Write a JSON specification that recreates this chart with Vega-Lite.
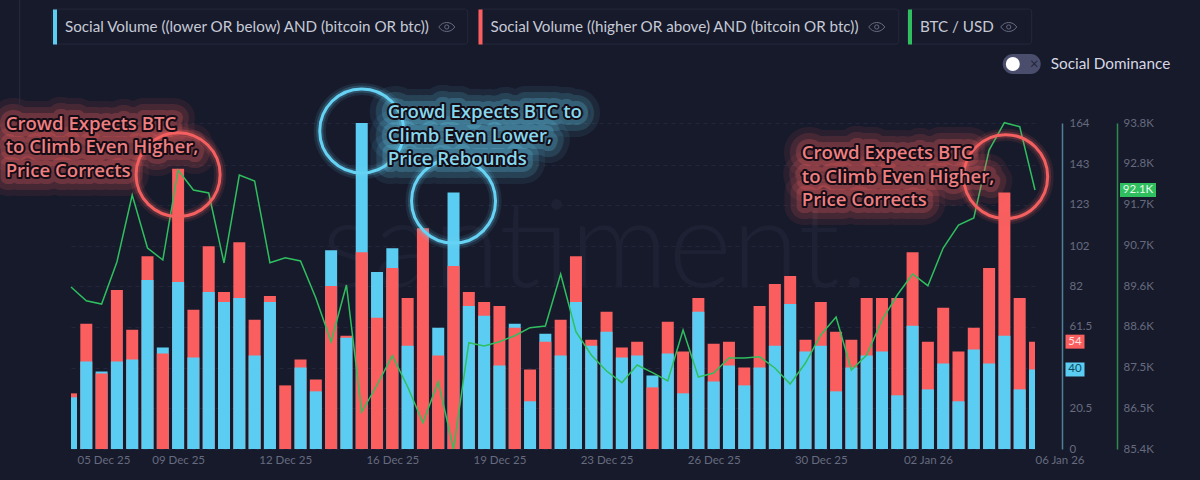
{
  "$schema": "https://vega.github.io/schema/vega-lite/v6.json",
  "width": 964,
  "height": 326,
  "autosize": {"type": "none"},
  "padding": {"left": 71, "top": 123, "right": 165, "bottom": 31},
  "background": "#171a2b",
  "config": {"view": {"stroke": null}, "font": "Lato"},
  "datasets": {
    "points": [
      {"date":"2025-12-05T00:00Z","series":"lower","value":26},{"date":"2025-12-05T00:00Z","series":"higher","value":28},{"date":"2025-12-05T00:00Z","series":"btc","value":89574},
      {"date":"2025-12-05T12:00Z","series":"lower","value":44},{"date":"2025-12-05T12:00Z","series":"higher","value":63},{"date":"2025-12-05T12:00Z","series":"btc","value":89221},
      {"date":"2025-12-06T00:00Z","series":"lower","value":39},{"date":"2025-12-06T00:00Z","series":"higher","value":38},{"date":"2025-12-06T00:00Z","series":"btc","value":89136},
      {"date":"2025-12-06T12:00Z","series":"lower","value":44},{"date":"2025-12-06T12:00Z","series":"higher","value":80},{"date":"2025-12-06T12:00Z","series":"btc","value":90218},
      {"date":"2025-12-07T00:00Z","series":"lower","value":45},{"date":"2025-12-07T00:00Z","series":"higher","value":60},{"date":"2025-12-07T00:00Z","series":"btc","value":91945},
      {"date":"2025-12-07T12:00Z","series":"lower","value":85},{"date":"2025-12-07T12:00Z","series":"higher","value":97},{"date":"2025-12-07T12:00Z","series":"btc","value":90579},
      {"date":"2025-12-08T00:00Z","series":"lower","value":51},{"date":"2025-12-08T00:00Z","series":"higher","value":48},{"date":"2025-12-08T00:00Z","series":"btc","value":90270},
      {"date":"2025-12-08T12:00Z","series":"lower","value":84},{"date":"2025-12-08T12:00Z","series":"higher","value":141},{"date":"2025-12-08T12:00Z","series":"btc","value":92589},
      {"date":"2025-12-09T00:00Z","series":"lower","value":46},{"date":"2025-12-09T00:00Z","series":"higher","value":70},{"date":"2025-12-09T00:00Z","series":"btc","value":92074},
      {"date":"2025-12-09T12:00Z","series":"lower","value":79},{"date":"2025-12-09T12:00Z","series":"higher","value":102},{"date":"2025-12-09T12:00Z","series":"btc","value":91996},
      {"date":"2025-12-10T00:00Z","series":"lower","value":74},{"date":"2025-12-10T00:00Z","series":"higher","value":79},{"date":"2025-12-10T00:00Z","series":"btc","value":90193},
      {"date":"2025-12-10T12:00Z","series":"lower","value":76},{"date":"2025-12-10T12:00Z","series":"higher","value":104},{"date":"2025-12-10T12:00Z","series":"btc","value":92460},
      {"date":"2025-12-11T00:00Z","series":"lower","value":47},{"date":"2025-12-11T00:00Z","series":"higher","value":65},{"date":"2025-12-11T00:00Z","series":"btc","value":92306},
      {"date":"2025-12-11T12:00Z","series":"lower","value":74},{"date":"2025-12-11T12:00Z","series":"higher","value":77},{"date":"2025-12-11T12:00Z","series":"btc","value":90200},
      {"date":"2025-12-12T00:00Z","series":"higher","value":32},{"date":"2025-12-12T00:00Z","series":"btc","value":90329},
      {"date":"2025-12-12T12:00Z","series":"lower","value":41},{"date":"2025-12-12T12:00Z","series":"higher","value":45},{"date":"2025-12-12T12:00Z","series":"btc","value":90244},
      {"date":"2025-12-13T00:00Z","series":"lower","value":29},{"date":"2025-12-13T00:00Z","series":"higher","value":35},{"date":"2025-12-13T00:00Z","series":"btc","value":89291},
      {"date":"2025-12-13T12:00Z","series":"lower","value":100},{"date":"2025-12-13T12:00Z","series":"higher","value":82},{"date":"2025-12-13T12:00Z","series":"btc","value":88165},
      {"date":"2025-12-14T00:00Z","series":"lower","value":56},{"date":"2025-12-14T00:00Z","series":"higher","value":57},{"date":"2025-12-14T00:00Z","series":"btc","value":89626},
      {"date":"2025-12-14T12:00Z","series":"lower","value":164},{"date":"2025-12-14T12:00Z","series":"higher","value":99},{"date":"2025-12-14T12:00Z","series":"btc","value":86353},
      {"date":"2025-12-15T00:00Z","series":"lower","value":89},{"date":"2025-12-15T00:00Z","series":"higher","value":66},{"date":"2025-12-15T00:00Z","series":"btc","value":87049},
      {"date":"2025-12-15T12:00Z","series":"lower","value":101},{"date":"2025-12-15T12:00Z","series":"higher","value":91},{"date":"2025-12-15T12:00Z","series":"btc","value":87804},
      {"date":"2025-12-16T00:00Z","series":"lower","value":52},{"date":"2025-12-16T00:00Z","series":"higher","value":76},{"date":"2025-12-16T00:00Z","series":"btc","value":87005},
      {"date":"2025-12-16T12:00Z","series":"higher","value":111},{"date":"2025-12-16T12:00Z","series":"btc","value":86078},
      {"date":"2025-12-17T00:00Z","series":"lower","value":61},{"date":"2025-12-17T00:00Z","series":"higher","value":47},{"date":"2025-12-17T00:00Z","series":"btc","value":87134},
      {"date":"2025-12-17T12:00Z","series":"lower","value":129},{"date":"2025-12-17T12:00Z","series":"higher","value":92},{"date":"2025-12-17T12:00Z","series":"btc","value":85400},
      {"date":"2025-12-18T00:00Z","series":"lower","value":72},{"date":"2025-12-18T00:00Z","series":"higher","value":79},{"date":"2025-12-18T00:00Z","series":"btc","value":88139},
      {"date":"2025-12-18T12:00Z","series":"lower","value":67},{"date":"2025-12-18T12:00Z","series":"higher","value":74},{"date":"2025-12-18T12:00Z","series":"btc","value":88054},
      {"date":"2025-12-19T00:00Z","series":"lower","value":42},{"date":"2025-12-19T00:00Z","series":"higher","value":72},{"date":"2025-12-19T00:00Z","series":"btc","value":88165},
      {"date":"2025-12-19T12:00Z","series":"lower","value":63},{"date":"2025-12-19T12:00Z","series":"higher","value":61},{"date":"2025-12-19T12:00Z","series":"btc","value":88319},
      {"date":"2025-12-20T00:00Z","series":"lower","value":24},{"date":"2025-12-20T00:00Z","series":"higher","value":40},{"date":"2025-12-20T00:00Z","series":"btc","value":88526},
      {"date":"2025-12-20T12:00Z","series":"lower","value":58},{"date":"2025-12-20T12:00Z","series":"higher","value":54},{"date":"2025-12-20T12:00Z","series":"btc","value":88569},
      {"date":"2025-12-21T00:00Z","series":"lower","value":47},{"date":"2025-12-21T00:00Z","series":"higher","value":65},{"date":"2025-12-21T00:00Z","series":"btc","value":89909},
      {"date":"2025-12-21T12:00Z","series":"lower","value":74},{"date":"2025-12-21T12:00Z","series":"higher","value":97},{"date":"2025-12-21T12:00Z","series":"btc","value":88422},
      {"date":"2025-12-22T00:00Z","series":"lower","value":52},{"date":"2025-12-22T00:00Z","series":"higher","value":55},{"date":"2025-12-22T00:00Z","series":"btc","value":87822},
      {"date":"2025-12-22T12:00Z","series":"lower","value":59},{"date":"2025-12-22T12:00Z","series":"higher","value":69},{"date":"2025-12-22T12:00Z","series":"btc","value":87410},
      {"date":"2025-12-23T00:00Z","series":"lower","value":46},{"date":"2025-12-23T00:00Z","series":"higher","value":51},{"date":"2025-12-23T00:00Z","series":"btc","value":87108},
      {"date":"2025-12-23T12:00Z","series":"lower","value":47},{"date":"2025-12-23T12:00Z","series":"higher","value":54},{"date":"2025-12-23T12:00Z","series":"btc","value":87564},
      {"date":"2025-12-24T00:00Z","series":"lower","value":37},{"date":"2025-12-24T00:00Z","series":"higher","value":31},{"date":"2025-12-24T00:00Z","series":"btc","value":87366},
      {"date":"2025-12-24T12:00Z","series":"lower","value":48},{"date":"2025-12-24T12:00Z","series":"higher","value":64},{"date":"2025-12-24T12:00Z","series":"btc","value":87152},
      {"date":"2025-12-25T00:00Z","series":"lower","value":28},{"date":"2025-12-25T00:00Z","series":"higher","value":49},{"date":"2025-12-25T00:00Z","series":"btc","value":88466},
      {"date":"2025-12-25T12:00Z","series":"lower","value":69},{"date":"2025-12-25T12:00Z","series":"higher","value":76},{"date":"2025-12-25T12:00Z","series":"btc","value":87255},
      {"date":"2025-12-26T00:00Z","series":"lower","value":34},{"date":"2025-12-26T00:00Z","series":"higher","value":53},{"date":"2025-12-26T00:00Z","series":"btc","value":87358},
      {"date":"2025-12-26T12:00Z","series":"lower","value":42},{"date":"2025-12-26T12:00Z","series":"higher","value":54},{"date":"2025-12-26T12:00Z","series":"btc","value":87745},
      {"date":"2025-12-27T00:00Z","series":"lower","value":32},{"date":"2025-12-27T00:00Z","series":"higher","value":41},{"date":"2025-12-27T00:00Z","series":"btc","value":87745},
      {"date":"2025-12-27T12:00Z","series":"lower","value":41},{"date":"2025-12-27T12:00Z","series":"higher","value":72},{"date":"2025-12-27T12:00Z","series":"btc","value":87778},
      {"date":"2025-12-28T00:00Z","series":"lower","value":52},{"date":"2025-12-28T00:00Z","series":"higher","value":83},{"date":"2025-12-28T00:00Z","series":"btc","value":87487},
      {"date":"2025-12-28T12:00Z","series":"lower","value":73},{"date":"2025-12-28T12:00Z","series":"higher","value":87},{"date":"2025-12-28T12:00Z","series":"btc","value":87075},
      {"date":"2025-12-29T00:00Z","series":"lower","value":49},{"date":"2025-12-29T00:00Z","series":"higher","value":55},{"date":"2025-12-29T00:00Z","series":"btc","value":87616},
      {"date":"2025-12-29T12:00Z","series":"lower","value":52},{"date":"2025-12-29T12:00Z","series":"higher","value":74},{"date":"2025-12-29T12:00Z","series":"btc","value":88337},
      {"date":"2025-12-30T00:00Z","series":"lower","value":29},{"date":"2025-12-30T00:00Z","series":"higher","value":59},{"date":"2025-12-30T00:00Z","series":"btc","value":88801},
      {"date":"2025-12-30T12:00Z","series":"lower","value":41},{"date":"2025-12-30T12:00Z","series":"higher","value":55},{"date":"2025-12-30T12:00Z","series":"btc","value":87436},
      {"date":"2025-12-31T00:00Z","series":"lower","value":47},{"date":"2025-12-31T00:00Z","series":"higher","value":76},{"date":"2025-12-31T00:00Z","series":"btc","value":87822},
      {"date":"2025-12-31T12:00Z","series":"lower","value":49},{"date":"2025-12-31T12:00Z","series":"higher","value":76},{"date":"2025-12-31T12:00Z","series":"btc","value":88724},
      {"date":"2026-01-01T00:00Z","series":"lower","value":27},{"date":"2026-01-01T00:00Z","series":"higher","value":76},{"date":"2026-01-01T00:00Z","series":"btc","value":89368},
      {"date":"2026-01-01T12:00Z","series":"lower","value":62},{"date":"2026-01-01T12:00Z","series":"higher","value":99},{"date":"2026-01-01T12:00Z","series":"btc","value":89909},
      {"date":"2026-01-02T00:00Z","series":"lower","value":30},{"date":"2026-01-02T00:00Z","series":"higher","value":54},{"date":"2026-01-02T00:00Z","series":"btc","value":89608},
      {"date":"2026-01-02T12:00Z","series":"lower","value":43},{"date":"2026-01-02T12:00Z","series":"higher","value":71},{"date":"2026-01-02T12:00Z","series":"btc","value":90579},
      {"date":"2026-01-03T00:00Z","series":"lower","value":24},{"date":"2026-01-03T00:00Z","series":"higher","value":49},{"date":"2026-01-03T00:00Z","series":"btc","value":91172},
      {"date":"2026-01-03T12:00Z","series":"lower","value":50},{"date":"2026-01-03T12:00Z","series":"higher","value":61},{"date":"2026-01-03T12:00Z","series":"btc","value":91352},
      {"date":"2026-01-04T00:00Z","series":"lower","value":43},{"date":"2026-01-04T00:00Z","series":"higher","value":91},{"date":"2026-01-04T00:00Z","series":"btc","value":93104},
      {"date":"2026-01-04T12:00Z","series":"lower","value":57},{"date":"2026-01-04T12:00Z","series":"higher","value":129},{"date":"2026-01-04T12:00Z","series":"btc","value":93808},
      {"date":"2026-01-05T00:00Z","series":"lower","value":30},{"date":"2026-01-05T00:00Z","series":"higher","value":76},{"date":"2026-01-05T00:00Z","series":"btc","value":93705},
      {"date":"2026-01-05T12:00Z","series":"lower","value":40},{"date":"2026-01-05T12:00Z","series":"higher","value":54},{"date":"2026-01-05T12:00Z","series":"btc","value":92074}
    ],
    "rings": [
      {"date":"2025-12-08T12:00Z","v":138,"tone":"red"},
      {"date":"2025-12-14T12:00Z","v":160,"tone":"blue"},
      {"date":"2025-12-17T12:00Z","v":124.7,"tone":"blue"},
      {"date":"2026-01-04T13:00Z","v":137,"tone":"red"}
    ],
    "notes": [
      {"date":"2025-12-02T20:45Z","v":163.5,"tone":"red","line":"Crowd Expects BTC"},
      {"date":"2025-12-02T20:45Z","v":151.7,"tone":"red","line":"to Climb Even Higher,"},
      {"date":"2025-12-02T20:45Z","v":139.8,"tone":"red","line":"Price Corrects"},
      {"date":"2025-12-15T08:24Z","v":169.5,"tone":"blue","line":"Crowd Expects BTC to"},
      {"date":"2025-12-15T08:24Z","v":157.4,"tone":"blue","line":"Climb Even Lower,"},
      {"date":"2025-12-15T08:24Z","v":145.9,"tone":"blue","line":"Price Rebounds"},
      {"date":"2025-12-28T21:07Z","v":148.9,"tone":"red","line":"Crowd Expects BTC"},
      {"date":"2025-12-28T21:07Z","v":136.8,"tone":"red","line":"to Climb Even Higher,"},
      {"date":"2025-12-28T21:07Z","v":125.3,"tone":"red","line":"Price Corrects"}
    ],
    "chips": [
      {"date":"2025-12-04T08:52Z","date2":"2025-12-17T23:06Z","v":221.3,"v2":203.7},
      {"date":"2025-12-18T07:48Z","date2":"2026-01-01T01:12Z","v":221.3,"v2":203.7},
      {"date":"2026-01-01T08:12Z","date2":"2026-01-05T09:24Z","v":221.3,"v2":203.7}
    ],
    "eyes": [
      {"date":"2025-12-17T06:42Z","v":212.3},
      {"date":"2025-12-31T07:54Z","v":212.3},
      {"date":"2026-01-04T15:24Z","v":212.3}
    ]
  },
  "encoding": {
    "x": {
      "field": "date",
      "type": "temporal",
      "title": null,
      "scale": {"type": "utc", "domain": ["2025-12-05T00:00Z", "2026-01-05T12:00Z"], "padding": 0},
      "axis": {
        "values": ["2025-12-05T00:00Z", "2025-12-08T12:00Z", "2025-12-12T00:00Z", "2025-12-15T12:00Z", "2025-12-19T00:00Z", "2025-12-22T12:00Z", "2025-12-26T00:00Z", "2025-12-29T12:00Z", "2026-01-02T00:00Z", "2026-01-05T12:00Z"],
        "labelExpr": "utcFormat(time(datum.value) + 43200000, '%d %b %y')",
        "labelAlign": {"condition": {"test": "datum.index == 0 || datum.index == 1", "value": "left"}, "value": "center"},
        "labelOffset": {"condition": {"test": "datum.index == 0", "value": 6}, "value": 0},
        "labelFontSize": 11.5,
        "labelColor": "#666b7f",
        "labelPadding": 5,
        "labelOverlap": false,
        "labelBound": false,
        "labelFlush": false,
        "domain": false,
        "ticks": false,
        "grid": false
      }
    }
  },
  "layer": [
    {
      "resolve": {"axis": {"y": "independent"}},
      "layer": [
        {
          "data": {"values": [{"date": "2025-12-22T03:00Z", "v": 100, "word": "santiment."}]},
          "mark": {"type": "text", "fontSize": 122, "fontWeight": 300, "color": "#1e2133", "align": "center", "baseline": "middle"},
          "encoding": {
            "y": {"field": "v", "type": "quantitative", "scale": {"domain": [0, 164]}, "axis": null},
            "text": {"field": "word"}
          }
        },
        {
          "data": {"name": "points"},
          "transform": [{"filter": "datum.series != 'btc'"}],
          "mark": {"type": "bar", "width": 12, "clip": true},
          "encoding": {
            "y": {
              "field": "value",
              "type": "quantitative",
              "stack": null,
              "title": null,
              "scale": {"domain": [0, 164]},
              "axis": {
                "orient": "right",
                "offset": 27,
                "values": [0, 20.5, 41, 61.5, 82, 102, 123, 143, 164],
                "format": ".1~f",
                "labelColor": "#666b7f",
                "labelFontSize": 11.5,
                "labelPadding": 7,
                "ticks": false,
                "domainColor": "#4c8196",
                "domainWidth": 1.5,
                "grid": true,
                "gridColor": "#22263a",
                "gridDash": [4, 4]
              }
            },
            "color": {
              "field": "series",
              "type": "nominal",
              "scale": {"domain": ["lower", "higher", "btc"], "range": ["#5ccdf2", "#fa5e5e", "#2fbf5f"]},
              "legend": {
                "orient": "none",
                "legendX": -33.5,
                "legendY": -113.5,
                "direction": "horizontal",
                "columns": 3,
                "gridAlign": "none",
                "title": null,
                "symbolType": "M-0.115,-1H0.115V1H-0.115Z",
                "symbolSize": 1225,
                "symbolStrokeWidth": 0,
                "labelOffset": -7.5,
                "columnPadding": 32.5,
                "labelFontSize": 15.2,
                "labelColor": "#c6cad6",
                "labelLimit": 500,
                "labelExpr": "datum.label == 'lower' ? 'Social Volume ((lower OR below) AND (bitcoin OR btc))' : datum.label == 'higher' ? 'Social Volume ((higher OR above) AND (bitcoin OR btc))' : 'BTC / USD'"
              }
            },
            "order": {"field": "value", "sort": "descending"}
          }
        },
        {
          "data": {"name": "points"},
          "transform": [{"filter": "datum.series != 'btc' && time(datum.date) >= 1767614400000"}],
          "mark": {"type": "rect", "width": 19, "height": 14, "xOffset": 40},
          "encoding": {
            "y": {"field": "value", "type": "quantitative", "scale": {"domain": [0, 164]}, "axis": null},
            "color": {"field": "series", "type": "nominal", "scale": {"domain": ["lower", "higher", "btc"], "range": ["#5ccdf2", "#fa5e5e", "#2fbf5f"]}}
          }
        },
        {
          "data": {"name": "points"},
          "transform": [{"filter": "datum.series != 'btc' && time(datum.date) >= 1767614400000"}],
          "mark": {"type": "text", "dx": 40, "fontSize": 11.5, "align": "center", "baseline": "middle"},
          "encoding": {
            "y": {"field": "value", "type": "quantitative", "scale": {"domain": [0, 164]}, "axis": null},
            "text": {"field": "value"},
            "fill": {"condition": {"test": "datum.series == 'lower'", "value": "#0c4a60"}, "value": "#ffe3e3"}
          }
        }
      ]
    },
    {
      "resolve": {"axis": {"y": "independent"}},
      "layer": [
        {
          "data": {"name": "points"},
          "transform": [{"filter": "datum.series == 'btc'"}],
          "mark": {"type": "line", "strokeWidth": 1.5},
          "encoding": {
            "y": {
              "field": "value",
              "type": "quantitative",
              "title": null,
              "scale": {"domain": [85400, 93800]},
              "axis": {
                "orient": "right",
                "offset": 82,
                "values": [85400, 86451, 87500, 88551, 89600, 90651, 91700, 92751, 93800],
                "labelExpr": "format(datum.value / 1000, '.1f') + 'K'",
                "labelColor": "#666b7f",
                "labelFontSize": 11.5,
                "labelPadding": 6,
                "ticks": false,
                "domainColor": "#2f8a50",
                "domainWidth": 1.5,
                "grid": false
              }
            },
            "color": {"field": "series", "type": "nominal", "scale": {"domain": ["lower", "higher", "btc"], "range": ["#5ccdf2", "#fa5e5e", "#2fbf5f"]}}
          }
        },
        {
          "data": {"name": "points"},
          "transform": [{"filter": "datum.series == 'btc' && time(datum.date) >= 1767614400000"}],
          "mark": {"type": "rect", "width": 36, "height": 14, "xOffset": 103},
          "encoding": {
            "y": {"field": "value", "type": "quantitative", "scale": {"domain": [85400, 93800]}, "axis": null},
            "color": {"field": "series", "type": "nominal", "scale": {"domain": ["lower", "higher", "btc"], "range": ["#5ccdf2", "#fa5e5e", "#2fbf5f"]}}
          }
        },
        {
          "data": {"name": "points"},
          "transform": [
            {"filter": "datum.series == 'btc' && time(datum.date) >= 1767614400000"},
            {"calculate": "format(datum.value / 1000, '.1f') + 'K'", "as": "tag"}
          ],
          "mark": {"type": "text", "dx": 103, "fontSize": 11.5, "color": "#e8f8ec", "align": "center", "baseline": "middle"},
          "encoding": {
            "y": {"field": "value", "type": "quantitative", "scale": {"domain": [85400, 93800]}, "axis": null},
            "text": {"field": "tag"}
          }
        }
      ]
    },
    {
      "resolve": {"axis": {"y": "independent"}},
      "layer": [
        {
          "data": {"name": "rings"},
          "mark": {"type": "point", "shape": "circle", "size": 7056, "strokeWidth": 12, "opacity": 0.1},
          "encoding": {
            "y": {"field": "v", "type": "quantitative", "scale": {"domain": [0, 164]}, "axis": null},
            "stroke": {"field": "tone", "type": "nominal", "scale": {"domain": ["red", "blue"], "range": ["#f4605f", "#66d2f4"]}, "legend": null}
          }
        },
        {
          "data": {"name": "rings"},
          "mark": {"type": "point", "shape": "circle", "size": 7056, "strokeWidth": 7, "opacity": 0.2},
          "encoding": {
            "y": {"field": "v", "type": "quantitative", "scale": {"domain": [0, 164]}, "axis": null},
            "stroke": {"field": "tone", "type": "nominal", "scale": {"domain": ["red", "blue"], "range": ["#f4605f", "#66d2f4"]}, "legend": null}
          }
        },
        {
          "data": {"name": "rings"},
          "mark": {"type": "point", "shape": "circle", "size": 7056, "strokeWidth": 3, "opacity": 1},
          "encoding": {
            "y": {"field": "v", "type": "quantitative", "scale": {"domain": [0, 164]}, "axis": null},
            "stroke": {"field": "tone", "type": "nominal", "scale": {"domain": ["red", "blue"], "range": ["#f4605f", "#66d2f4"]}, "legend": null}
          }
        },
        {
          "data": {"name": "notes"},
          "mark": {"type": "text", "font": "Open Sans", "align": "left", "baseline": "middle", "fontSize": 18.6, "fontWeight": 600, "strokeWidth": 38, "strokeJoin": "round", "opacity": 0.08},
          "encoding": {
            "y": {"field": "v", "type": "quantitative", "scale": {"domain": [0, 164]}, "axis": null},
            "text": {"field": "line"},
            "stroke": {"field": "tone", "type": "nominal", "scale": {"domain": ["red", "blue"], "range": ["#f4605f", "#66d2f4"]}, "legend": null}
          }
        },
        {
          "data": {"name": "notes"},
          "mark": {"type": "text", "font": "Open Sans", "align": "left", "baseline": "middle", "fontSize": 18.6, "fontWeight": 600, "strokeWidth": 26, "strokeJoin": "round", "opacity": 0.14},
          "encoding": {
            "y": {"field": "v", "type": "quantitative", "scale": {"domain": [0, 164]}, "axis": null},
            "text": {"field": "line"},
            "stroke": {"field": "tone", "type": "nominal", "scale": {"domain": ["red", "blue"], "range": ["#f4605f", "#66d2f4"]}, "legend": null}
          }
        },
        {
          "data": {"name": "notes"},
          "mark": {"type": "text", "font": "Open Sans", "align": "left", "baseline": "middle", "fontSize": 18.6, "fontWeight": 600, "strokeWidth": 14, "strokeJoin": "round", "opacity": 0.22},
          "encoding": {
            "y": {"field": "v", "type": "quantitative", "scale": {"domain": [0, 164]}, "axis": null},
            "text": {"field": "line"},
            "stroke": {"field": "tone", "type": "nominal", "scale": {"domain": ["red", "blue"], "range": ["#f4605f", "#66d2f4"]}, "legend": null}
          }
        },
        {
          "data": {"name": "notes"},
          "mark": {"type": "text", "font": "Open Sans", "align": "left", "baseline": "middle", "fontSize": 18.6, "fontWeight": 600, "stroke": "#140d16", "strokeWidth": 4, "strokeJoin": "round"},
          "encoding": {
            "y": {"field": "v", "type": "quantitative", "scale": {"domain": [0, 164]}, "axis": null},
            "text": {"field": "line"}
          }
        },
        {
          "data": {"name": "notes"},
          "mark": {"type": "text", "font": "Open Sans", "align": "left", "baseline": "middle", "fontSize": 18.6, "fontWeight": 600},
          "encoding": {
            "y": {"field": "v", "type": "quantitative", "scale": {"domain": [0, 164]}, "axis": null},
            "text": {"field": "line"},
            "fill": {"field": "tone", "type": "nominal", "scale": {"domain": ["red", "blue"], "range": ["#ef7f80", "#86d8ee"]}, "legend": null}
          }
        },
        {
          "data": {"name": "chips", "format": {"parse": {"date": "date", "date2": "date"}}},
          "mark": {"type": "rect", "fill": "transparent", "stroke": "#23283a", "cornerRadius": 3},
          "encoding": {
            "x2": {"field": "date2"},
            "y": {"field": "v", "type": "quantitative", "scale": {"domain": [0, 164]}, "axis": null},
            "y2": {"field": "v2"}
          }
        },
        {
          "data": {"name": "eyes"},
          "mark": {"type": "point", "shape": "M-1,0C-0.5,-0.75 0.5,-0.75 1,0C0.5,0.75 -0.5,0.75 -1,0Z", "size": 256, "stroke": "#666b7f", "strokeWidth": 1, "opacity": 1},
          "encoding": {
            "y": {"field": "v", "type": "quantitative", "scale": {"domain": [0, 164]}, "axis": null}
          }
        },
        {
          "data": {"name": "eyes"},
          "mark": {"type": "point", "shape": "circle", "size": 18, "stroke": "#666b7f", "strokeWidth": 1, "opacity": 1},
          "encoding": {
            "y": {"field": "v", "type": "quantitative", "scale": {"domain": [0, 164]}, "axis": null}
          }
        },
        {
          "data": {"values": [{"date": "2025-12-03T07:48Z", "v": 226, "v2": 171}]},
          "mark": {"type": "rule", "color": "#2a2d40"},
          "encoding": {
            "y": {"field": "v", "type": "quantitative", "scale": {"domain": [0, 164]}, "axis": null},
            "y2": {"field": "v2"}
          }
        },
        {
          "data": {"values": [{"date": "2026-01-04T10:42Z", "date2": "2026-01-05T16:30Z", "v": 198.7, "v2": 188.6}], "format": {"parse": {"date": "date", "date2": "date"}}},
          "mark": {"type": "rect", "fill": "#4a4e6c", "cornerRadius": 10},
          "encoding": {
            "x2": {"field": "date2"},
            "y": {"field": "v", "type": "quantitative", "scale": {"domain": [0, 164]}, "axis": null},
            "y2": {"field": "v2"}
          }
        },
        {
          "data": {"values": [{"date": "2026-01-04T18:36Z", "v": 193.7}]},
          "mark": {"type": "circle", "size": 196, "color": "#ffffff", "opacity": 1},
          "encoding": {
            "y": {"field": "v", "type": "quantitative", "scale": {"domain": [0, 164]}, "axis": null}
          }
        },
        {
          "data": {"values": [
            {"date": "2026-01-05T07:54Z", "v": 193.7, "label": "×", "kind": "x"},
            {"date": "2026-01-06T00:24Z", "v": 193.7, "label": "Social Dominance", "kind": "name"}
          ]},
          "mark": {"type": "text", "align": "left", "baseline": "middle", "fontSize": 15.3},
          "encoding": {
            "y": {"field": "v", "type": "quantitative", "scale": {"domain": [0, 164]}, "axis": null},
            "text": {"field": "label"},
            "fill": {"condition": {"test": "datum.kind == 'x'", "value": "#23263a"}, "value": "#d5d8e2"}
          }
        }
      ]
    }
  ],
  "resolve": {"scale": {"y": "independent"}}
}
